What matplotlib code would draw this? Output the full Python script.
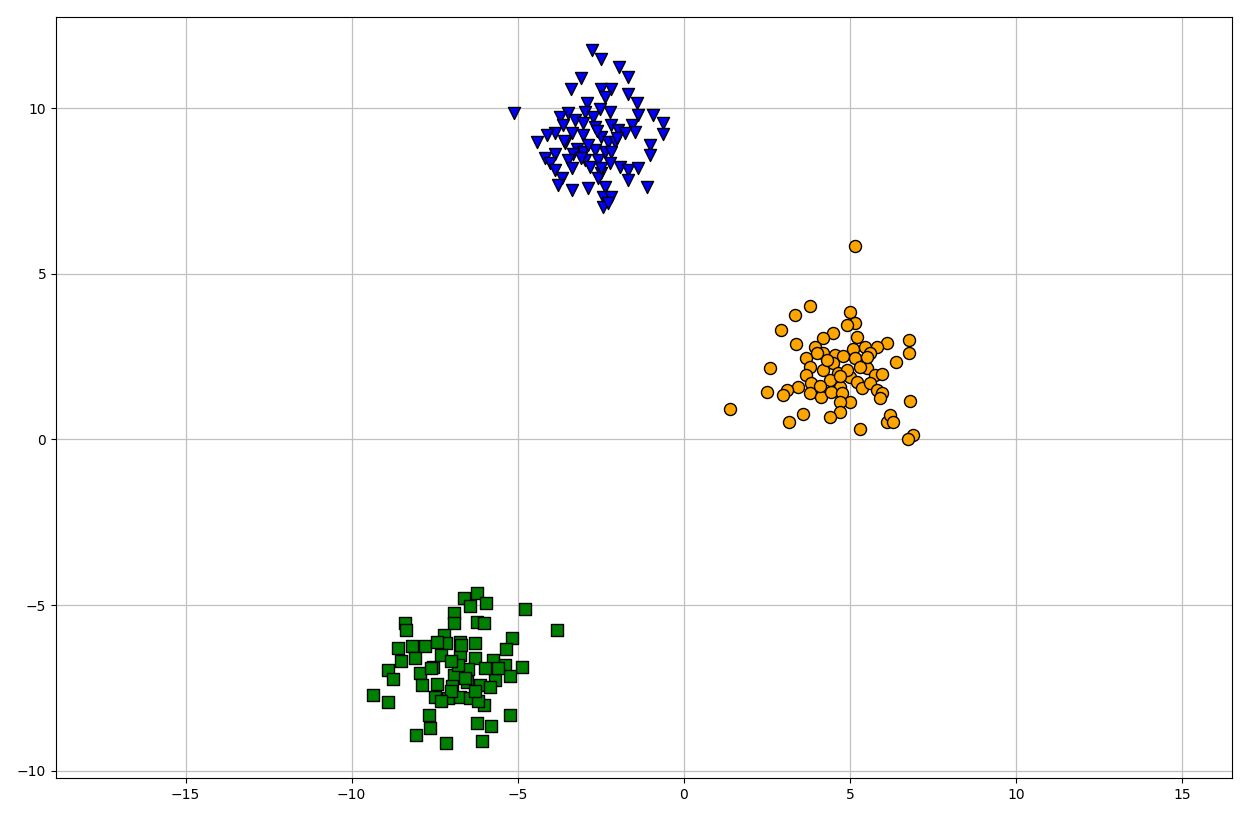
import matplotlib
matplotlib.use("Agg")
import matplotlib.pyplot as plt

blue_x = [-2.78, -2.48, -1.96, -1.68, -3.10, -3.40, -2.50, -2.18, -1.68, -2.38,
          -2.93, -1.42, -5.11, -3.48, -2.98, -2.53, -2.23, -1.38, -0.92, -0.62,
          -0.62, -3.73, -3.28, -2.73, -3.63, -3.03, -2.68, -2.18, -1.98, -1.57,
          -1.47, -1.78, -3.88, -4.13, -4.43, -3.38, -3.03, -2.48, -2.28, -2.08,
          -1.02, -1.02, -3.58, -3.23, -3.03, -3.33, -2.68, -2.38, -2.18, -3.88,
          -4.18, -4.03, -3.48, -2.98, -2.58, -2.23, -2.83, -3.88, -3.38, -1.93,
          -1.68, -1.38, -2.48, -2.58, -3.68, -3.78, -3.38, -2.88, -2.38, -1.68,
          -1.12, -2.43, -2.18, -2.43, -2.28, -2.60, -2.90, -2.00, -3.10, -2.50,
          -3.60]
blue_y = [11.75, 11.48, 11.25, 10.94, 10.90, 10.59, 10.59, 10.59, 10.44, 10.34,
          10.14, 10.14, 9.84, 9.84, 9.87, 9.97, 9.87, 9.79, 9.79, 9.54,
          9.21, 9.74, 9.64, 9.74, 9.49, 9.54, 9.44, 9.49, 9.34, 9.49,
          9.29, 9.24, 9.24, 9.19, 8.98, 9.24, 9.19, 9.13, 8.98, 8.98,
          8.88, 8.58, 8.94, 8.78, 8.68, 8.63, 8.73, 8.68, 8.68, 8.63,
          8.48, 8.33, 8.43, 8.43, 8.43, 8.33, 8.23, 8.13, 8.18, 8.23,
          8.13, 8.18, 8.03, 7.88, 7.88, 7.68, 7.53, 7.58, 7.63, 7.83,
          7.63, 7.33, 7.33, 7.03, 7.13, 9.30, 8.90, 9.10, 8.50, 8.20,
          9.00]

orange_x = [5.15, 3.81, 3.36, 2.91, 5.00, 5.15, 4.90, 4.49, 4.19, 3.39,
            5.20, 6.10, 6.78, 6.78, 3.94, 3.69, 4.19, 4.54, 4.79, 5.10,
            5.45, 5.80, 5.60, 6.40, 5.15, 2.59, 3.79, 4.19, 4.49, 3.69,
            4.64, 5.00, 5.50, 5.75, 5.95, 3.84, 3.44, 3.09, 2.49, 2.99,
            4.69, 5.20, 5.35, 5.60, 5.80, 5.95, 5.90, 3.79, 4.14, 4.44,
            4.75, 5.00, 4.69, 4.69, 6.80, 3.59, 3.17, 4.39, 5.30, 6.10,
            6.20, 6.30, 6.90, 6.75, 1.38, 4.30, 4.90, 4.40, 5.30, 4.10,
            4.70, 5.50, 4.00]
orange_y = [5.84, 4.03, 3.76, 3.30, 3.86, 3.51, 3.45, 3.20, 3.05, 2.88,
            3.08, 2.92, 3.00, 2.62, 2.80, 2.47, 2.60, 2.55, 2.52, 2.72,
            2.78, 2.78, 2.60, 2.35, 2.45, 2.15, 2.20, 2.10, 2.30, 1.95,
            2.00, 1.89, 2.15, 1.95, 1.98, 1.70, 1.59, 1.49, 1.44, 1.34,
            1.59, 1.74, 1.54, 1.70, 1.49, 1.39, 1.24, 1.39, 1.29, 1.44,
            1.39, 1.14, 1.14, 0.84, 1.17, 0.77, 0.54, 0.69, 0.32, 0.54,
            0.74, 0.54, 0.14, 0.01, 0.92, 2.40, 2.10, 1.80, 2.20, 1.60,
            1.90, 2.50, 2.60]

green_x = [-6.24, -6.61, -5.97, -4.78, -3.83, -6.91, -6.44, -6.24, -6.01, -6.91,
           -8.40, -8.35, -5.18, -7.21, -7.16, -6.74, -6.29, -8.60, -8.19, -7.79,
           -7.44, -5.34, -8.50, -8.90, -8.75, -7.54, -7.94, -7.31, -6.74, -6.29,
           -5.74, -5.39, -4.88, -6.49, -6.91, -5.24, -5.69, -7.44, -7.89, -6.99,
           -6.54, -6.14, -5.84, -9.35, -8.92, -7.49, -7.11, -6.74, -6.44, -6.01,
           -7.67, -5.24, -7.64, -6.24, -5.81, -8.07, -6.09, -7.16, -6.80, -7.00,
           -6.60, -7.30, -6.20, -7.60, -8.10, -6.00, -6.70, -7.00, -6.30, -5.60]
green_y = [-4.64, -4.79, -4.94, -5.12, -5.75, -5.24, -5.04, -5.50, -5.53, -5.55,
           -5.55, -5.75, -6.00, -5.90, -6.15, -6.10, -6.15, -6.30, -6.23, -6.23,
           -6.10, -6.33, -6.70, -6.95, -7.23, -6.87, -7.05, -6.50, -6.50, -6.60,
           -6.65, -6.80, -6.87, -6.93, -7.10, -7.13, -7.25, -7.38, -7.41, -7.44,
           -7.31, -7.41, -7.46, -7.71, -7.94, -7.78, -7.81, -7.76, -7.81, -8.01,
           -8.31, -8.31, -8.71, -8.56, -8.66, -8.91, -9.09, -9.16, -6.80, -7.60,
           -7.20, -7.90, -7.90, -6.90, -6.60, -6.90, -6.20, -6.70, -7.60, -6.90]

fig = plt.figure(figsize=(12.55, 8.26), dpi=100)
ax = fig.add_axes([0.0446, 0.0581, 0.9371, 0.9213])
ax.scatter(orange_x, orange_y, c='orange', marker='o', edgecolor='black', s=75, zorder=3)
ax.scatter(green_x, green_y, c='green', marker='s', edgecolor='black', s=85, zorder=3)
ax.scatter(blue_x, blue_y, c='blue', marker='v', edgecolor='black', s=75, zorder=3)
ax.grid(True, color='#c0c0c0', linewidth=0.9)
ax.set_axisbelow(True)
ax.set_xlim(-18.9, 16.5)
ax.set_ylim(-10.22, 12.75)
ax.set_xticks([-15, -10, -5, 0, 5, 10, 15])
ax.set_yticks([-10, -5, 0, 5, 10])
ax.tick_params(labelsize=10)
fig.savefig("out.png", dpi=100)
